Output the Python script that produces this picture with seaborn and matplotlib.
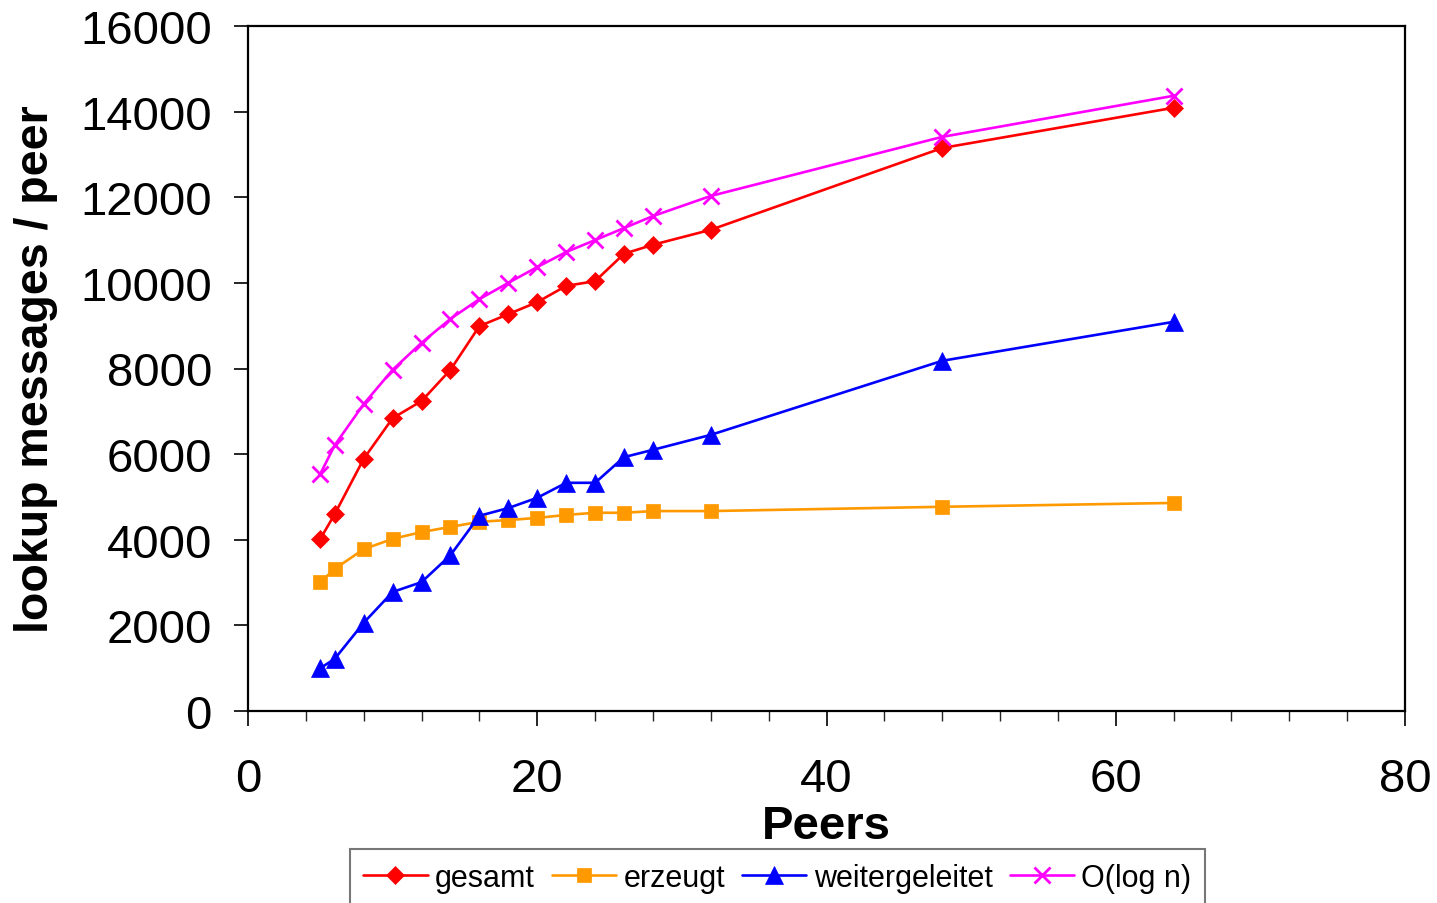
import matplotlib
matplotlib.use("Agg")
import matplotlib.pyplot as plt
import seaborn as sns
import numpy as np
from matplotlib.ticker import MultipleLocator

peers = [5, 6, 8, 10, 12, 14, 16, 18, 20, 22, 24, 26, 28, 32, 48, 64]
gesamt = [4020, 4600, 5890, 6840, 7240, 7970, 8990, 9270, 9550, 9930, 10040, 10680, 10890, 11240, 13150, 14090]
erzeugt = [3010, 3320, 3780, 4020, 4180, 4300, 4420, 4460, 4510, 4580, 4630, 4630, 4670, 4670, 4770, 4860]
weitergeleitet = [1000, 1220, 2060, 2780, 3010, 3640, 4560, 4740, 4980, 5330, 5330, 5930, 6100, 6450, 8180, 9090]
olog = [5540, 6210, 7170, 7970, 8600, 9160, 9620, 10000, 10370, 10720, 11000, 11280, 11560, 12030, 13410, 14370]

series = [
    ("gesamt", gesamt, "#FF0000", "D", 9),
    ("erzeugt", erzeugt, "#FF9900", "s", 10.5),
    ("weitergeleitet", weitergeleitet, "#0000FF", "^", 12.5),
    ("O(log n)", olog, "#FF00FF", "x", 11),
]

sns.set_theme(style="white")
plt.rcParams['font.family'] = ['Liberation Sans', 'DejaVu Sans']
plt.rcParams['text.color'] = 'black'

fig = plt.figure(figsize=(14.37, 9.04), dpi=100)
ax = fig.add_axes([248/1437, 1-712/904, (1405-248)/1437, (712-27)/904])

for name, vals, color, marker, ms in series:
    sns.lineplot(x=peers, y=vals, ax=ax, color=color, marker=marker, markersize=ms,
                 markeredgecolor=color, markerfacecolor=color,
                 markeredgewidth=2 if marker == "x" else 0.5,
                 linewidth=1.9, label=name, legend=False)

ax.set_xlim(0, 80)
ax.set_ylim(0, 16000)
ax.xaxis.set_major_locator(MultipleLocator(20))
ax.xaxis.set_minor_locator(MultipleLocator(4))
ax.yaxis.set_major_locator(MultipleLocator(2000))

for s in ax.spines.values():
    s.set_visible(True)
    s.set_color("black")
    s.set_linewidth(1.6)

ax.tick_params(axis='x', which='major', direction='out', length=11, width=1.2, pad=22,
               labelsize=34, colors='black', bottom=True)
ax.tick_params(axis='x', which='minor', direction='out', length=7, width=1.0, bottom=True)
ax.tick_params(axis='y', which='major', direction='out', length=10, width=1.2, pad=16,
               labelsize=34, colors='black', left=True)

ax.set_xlabel("Peers", fontsize=34, fontweight='bold', color='black', labelpad=2)
ax.set_ylabel("lookup messages / peer", fontsize=33.5, fontweight='bold', color='black', labelpad=16)

handles, labels = ax.get_legend_handles_labels()
leg = fig.legend(handles, labels, loc='upper center', bbox_to_anchor=(0.541, 1-850/904),
                 borderaxespad=0.0, labelcolor='black',
                 ncol=4, fontsize=22, frameon=True, fancybox=False, edgecolor='#555555',
                 handlelength=2.1, handletextpad=0.25, columnspacing=0.55, borderpad=0.45)
leg.get_frame().set_linewidth(1.5)

fig.savefig("out.png", dpi=100, facecolor='white')
